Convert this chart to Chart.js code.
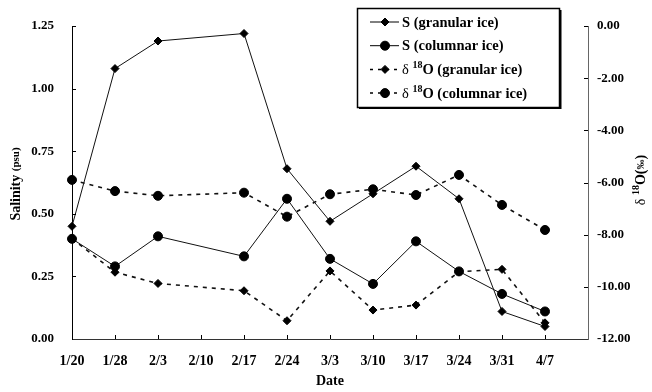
<!DOCTYPE html>
<html>
<head>
<meta charset="utf-8">
<script src="https://cdn.jsdelivr.net/npm/chart.js@4"></script>
<style>
html, body { margin: 0; padding: 0; background: #fff; }
canvas { display: block; }
</style>
</head>
<body>
<canvas id="salinidadChart" width="652" height="392"></canvas>
<script>
// fechas de muestreo (la ultima vacia para que el eje llegue hasta el borde derecho)
const fechas = ['1/20', '1/28', '2/3', '2/10', '2/17', '2/24', '3/3', '3/10', '3/17', '3/24', '3/31', '4/7', ''];

// salinidad (psu), eje izquierdo
const sGranular = [0.45, 1.08, 1.19, null, 1.22, 0.68, 0.47, 0.58, 0.69, 0.56, 0.11, 0.05];
const sColumnar = [0.40, 0.29, 0.41, null, 0.33, 0.56, 0.32, 0.22, 0.39, 0.27, 0.18, 0.11];

// delta 18O (‰), eje derecho
const dGranular = [-8.15, -9.44, -9.87, null, -10.15, -11.30, -9.39, -10.89, -10.70, -9.42, -9.33, -11.38];
const dColumnar = [-5.90, -6.33, -6.51, null, -6.39, -7.31, -6.45, -6.26, -6.48, -5.71, -6.86, -7.82];

const etiquetas = ['S (granular ice)', 'S (columnar ice)', 'δ18O (granular ice)', 'δ18O (columnar ice)'];

const serif = '"Liberation Serif", "Times New Roman", serif';
Chart.defaults.font.family = serif;
Chart.defaults.font.weight = 'bold';
Chart.defaults.color = '#000';

// dibuja un texto en partes (para superindices), centrado o desde x
function textoPartes(c, partes, x, y, centrado) {
    let ancho = 0;
    partes.forEach(p => {
        c.font = (p.w || 'bold') + ' ' + p.s + 'px ' + serif;
        p.ancho = c.measureText(p.t).width;
        ancho += p.ancho;
    });
    let px = centrado ? x - ancho / 2 : x;
    partes.forEach(p => {
        c.font = (p.w || 'bold') + ' ' + p.s + 'px ' + serif;
        c.fillText(p.t, px, y - (p.up || 0));
        px += p.ancho;
    });
}

function partesLeyenda(txt) {
    if (txt.startsWith('δ18O')) {
        return [{t: 'δ ', s: 14.5, w: 'normal'}, {t: '18', s: 10, up: 5}, {t: 'O' + txt.slice(4), s: 14.5}];
    }
    return [{t: txt, s: 14.5}];
}

// ticks hacia dentro, titulos de ejes y cuadro de leyenda
const extras = {
    id: 'extras',
    afterDraw(chart) {
        const c = chart.ctx;
        const xs = chart.scales.x, yl = chart.scales.y, yr = chart.scales.y1;
        c.save();
        c.strokeStyle = '#000';
        c.lineWidth = 1;
        c.beginPath();
        for (let i = 1; i < fechas.length - 1; i++) {
            const px = Math.round(xs.getPixelForValue(i)) + 0.5;
            c.moveTo(px, xs.top);
            c.lineTo(px, xs.top - 4);
        }
        yl.ticks.forEach(t => {
            if (t.value <= 0) return;
            const py = Math.round(yl.getPixelForValue(t.value)) + 0.5;
            c.moveTo(yl.right, py);
            c.lineTo(yl.right + 4, py);
        });
        yr.ticks.forEach(t => {
            if (t.value <= -12) return;
            const py = Math.round(yr.getPixelForValue(t.value)) + 0.5;
            c.moveTo(yr.left, py);
            c.lineTo(yr.left - 4, py);
        });
        c.stroke();

        // titulos verticales
        c.fillStyle = '#000';
        c.textBaseline = 'middle';
        c.save();
        c.translate(16, 184);
        c.rotate(-Math.PI / 2);
        textoPartes(c, [{t: 'Salinity ', s: 14}, {t: '(psu)', s: 11}], 0, 0, true);
        c.restore();
        c.save();
        c.translate(641, 180);
        c.rotate(-Math.PI / 2);
        textoPartes(c, [{t: 'δ ', s: 14, w: 'normal'}, {t: '18', s: 10, up: 5}, {t: 'O(', s: 14}, {t: '‰', s: 10}, {t: ')', s: 14}], 0, 0, true);
        c.restore();

        // cuadro de la leyenda
        c.fillStyle = '#fff';
        c.fillRect(357, 8, 202, 99);
        c.lineWidth = 1.5;
        c.strokeRect(357.5, 8.5, 202, 99);
        c.fillStyle = '#000';
        c.fillRect(559, 10, 2.5, 99);
        c.fillRect(359, 107, 202, 2);

        chart.data.datasets.forEach((ds, i) => {
            const y = 22 + i * 23.7;
            c.strokeStyle = '#000';
            c.lineWidth = ds.borderDash.length ? 1.5 : 1;
            c.setLineDash(ds.borderDash.length ? [3, 5] : []);
            c.beginPath();
            c.moveTo(370, y);
            c.lineTo(399, y);
            c.stroke();
            c.setLineDash([]);
            c.fillStyle = '#000';
            c.lineWidth = 1;
            Chart.helpers.drawPoint(c, {pointStyle: ds.pointStyle, radius: ds.pointRadius, rotation: 0, borderWidth: 1}, 385, y);
            c.textBaseline = 'middle';
            textoPartes(c, partesLeyenda(etiquetas[i]), 402, y + 1, false);
        });
        c.restore();
    }
};

function serie(etiqueta, datos, eje, punto, radio, discontinua) {
    return {
        label: etiqueta,
        data: datos,
        yAxisID: eje,
        borderColor: '#111',
        backgroundColor: '#000',
        borderWidth: discontinua ? 1.6 : 1,
        borderDash: discontinua ? [4, 5] : [],
        pointStyle: punto,
        pointRadius: radio,
        pointBorderWidth: 1,
        pointBackgroundColor: '#000',
        pointBorderColor: '#000',
        spanGaps: true,
        tension: 0
    };
}

var ctx = document.getElementById('salinidadChart').getContext('2d');

var grafico = new Chart(ctx, {
    type: 'line',
    data: {
        labels: fechas,
        datasets: [
            serie(etiquetas[0], sGranular, 'y', 'rectRot', 4, false),
            serie(etiquetas[1], sColumnar, 'y', 'circle', 4.5, false),
            serie(etiquetas[2], dGranular, 'y1', 'rectRot', 4, true),
            serie(etiquetas[3], dColumnar, 'y1', 'circle', 4.5, true)
        ]
    },
    options: {
        responsive: false,
        animation: false,
        layout: { padding: { top: 26, left: 0, right: 0, bottom: 0 } },
        plugins: {
            legend: { display: false },
            title: { display: false },
            tooltip: { enabled: false }
        },
        scales: {
            x: {
                type: 'category',
                offset: false,
                grid: { display: false, drawTicks: false },
                border: { display: true, color: '#333', width: 1 },
                ticks: { autoSkip: false, maxRotation: 0, padding: 14, font: { size: 14, weight: 'bold' } },
                title: { display: true, text: 'Date', font: { size: 14, weight: 'bold' }, padding: { top: 0, bottom: 2 } },
                afterFit: s => { s.height = 53; }
            },
            y: {
                position: 'left',
                min: 0,
                max: 1.25,
                grid: { display: false, drawTicks: false },
                border: { display: true, color: '#000', width: 1 },
                ticks: { stepSize: 0.25, padding: 18, font: { size: 13, weight: 'bold' }, callback: v => v.toFixed(2) },
                afterFit: s => { s.width = 72; }
            },
            y1: {
                position: 'right',
                min: -12,
                max: 0,
                grid: { display: false, drawTicks: false },
                border: { display: true, color: '#666', width: 1 },
                ticks: { stepSize: 2, padding: 9, font: { size: 13, weight: 'bold' }, callback: v => v.toFixed(2) },
                afterFit: s => { s.width = 64; }
            }
        }
    },
    plugins: [extras]
});
</script>
</body>
</html>
